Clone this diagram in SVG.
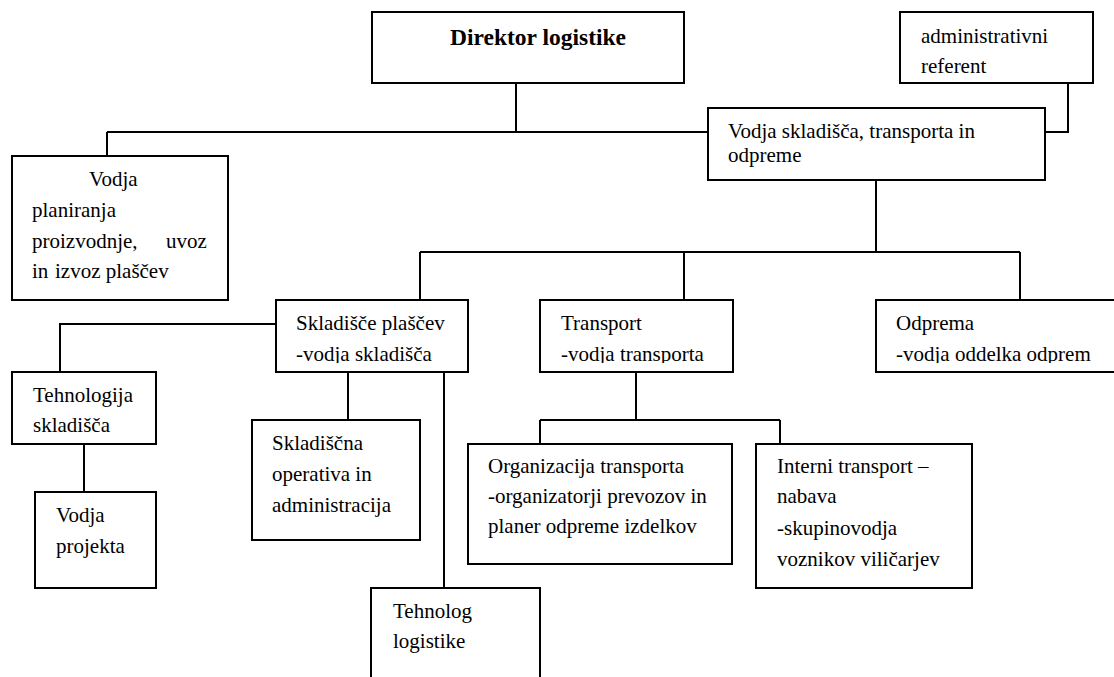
<svg xmlns="http://www.w3.org/2000/svg" width="1114" height="677" viewBox="0 0 1114 677" font-family="'Liberation Serif', 'Times New Roman', Times, serif" font-size="21">
<style>
.box{fill:#fff;stroke:#000;stroke-width:2}
.ln{fill:none;stroke:#000;stroke-width:2}
text{font-family:'Liberation Serif', 'Times New Roman', Times, serif;font-size:21px;fill:#000}
text.b{font-weight:bold;font-size:23.5px}
</style>
<defs>
<clipPath id="c1"><rect x="277" y="301" width="190" height="62"/></clipPath>
<clipPath id="c2"><rect x="541" y="301" width="190" height="62"/></clipPath>
<clipPath id="c3"><rect x="877" y="301" width="240" height="62"/></clipPath>
</defs>
<rect width="1114" height="677" fill="#fff"/>
<g id="connectors">
<path class="ln" d="M516 83V132M107 132H708M107 132V156"/>
<path class="ln" d="M1068 83V132H1045"/>
<path class="ln" d="M876 180V252M420 252H1020M420 252V300M684 252V300M1020 252V300"/>
<path class="ln" d="M276 324H60V372M84 444V492"/>
<path class="ln" d="M348 372V420M444 372V588"/>
<path class="ln" d="M636 372V420M540 420H780M540 420V444M780 420V444"/>
</g>
<g id="director">
<rect class="box" x="372" y="12" width="312" height="71"/>
<text class="b" x="450" y="45">Direktor logistike</text>
</g>
<g id="admin">
<rect class="box" x="900" y="12" width="193" height="71"/>
<text x="921" y="43">administrativni</text>
<text x="921" y="73">referent</text>
</g>
<g id="vodja-skladisca">
<rect class="box" x="708" y="108" width="337" height="72"/>
<text x="728" y="138">Vodja skladišča, transporta in</text>
<text x="728" y="162">odpreme</text>
</g>
<g id="vodja-planiranja">
<rect class="box" x="12" y="156" width="216" height="144"/>
<text x="89" y="186">Vodja</text>
<text x="32" y="217">planiranja</text>
<text x="32" y="248">proizvodnje,</text>
<text x="166" y="248">uvoz</text>
<text x="32" y="278">in</text>
<text x="55" y="278">izvoz plaščev</text>
</g>
<g id="skladisce-plascev">
<rect class="box" x="276" y="300" width="192" height="72"/>
<g clip-path="url(#c1)">
<text x="296" y="330">Skladišče plaščev</text>
<text x="296" y="361">-vodja skladišča</text>
</g>
</g>
<g id="transport">
<rect class="box" x="540" y="300" width="193" height="72"/>
<g clip-path="url(#c2)">
<text x="561" y="330">Transport</text>
<text x="561" y="361">-vodja transporta</text>
</g>
</g>
<g id="odprema">
<rect class="box" x="876" y="300" width="260" height="72"/>
<g clip-path="url(#c3)">
<text x="896" y="330">Odprema</text>
<text x="896" y="361">-vodja oddelka odprem</text>
</g>
</g>
<g id="tehnologija-skladisca">
<rect class="box" x="12" y="372" width="144" height="72"/>
<text x="33" y="402">Tehnologija</text>
<text x="33" y="432">skladišča</text>
</g>
<g id="vodja-projekta">
<rect class="box" x="35" y="492" width="121" height="96"/>
<text x="56" y="522">Vodja</text>
<text x="56" y="553">projekta</text>
</g>
<g id="skladiscna-operativa">
<rect class="box" x="252" y="420" width="168" height="120"/>
<text x="272" y="450">Skladiščna</text>
<text x="272" y="481">operativa in</text>
<text x="272" y="512">administracija</text>
</g>
<g id="tehnolog-logistike">
<rect class="box" x="371" y="588" width="169" height="110"/>
<text x="393" y="618">Tehnolog</text>
<text x="393" y="648">logistike</text>
</g>
<g id="organizacija-transporta">
<rect class="box" x="468" y="444" width="264" height="120"/>
<text x="488" y="473">Organizacija transporta</text>
<text x="488" y="503">-organizatorji prevozov in</text>
<text x="488" y="533">planer odpreme izdelkov</text>
</g>
<g id="interni-transport">
<rect class="box" x="756" y="444" width="216" height="144"/>
<text x="777" y="473">Interni transport –</text>
<text x="777" y="503">nabava</text>
<text x="777" y="535">-skupinovodja</text>
<text x="777" y="566">voznikov viličarjev</text>
</g>
</svg>
